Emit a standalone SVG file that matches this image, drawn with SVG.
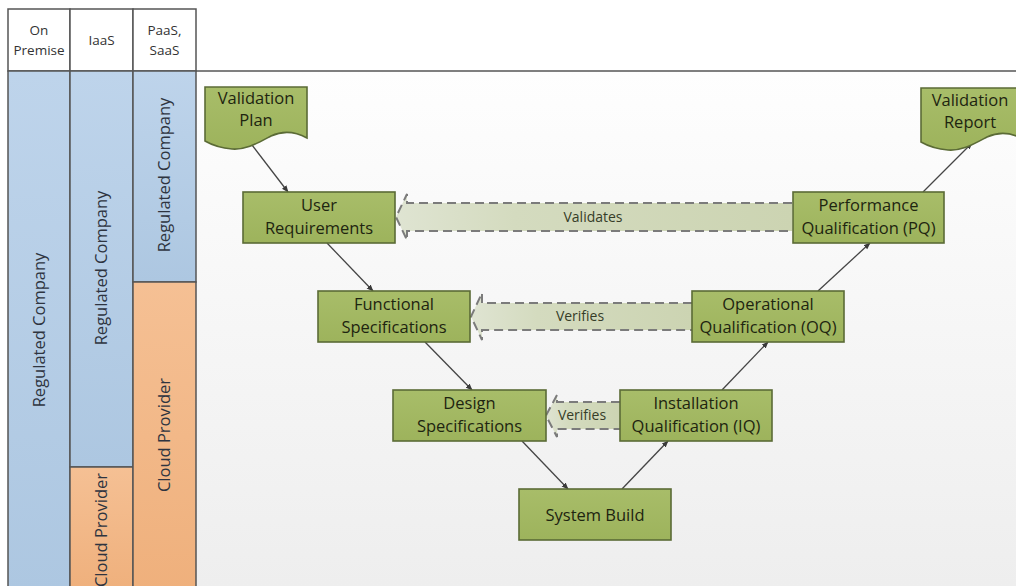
<svg xmlns="http://www.w3.org/2000/svg" width="1016" height="586" viewBox="0 0 1016 586">
<defs>
  <linearGradient id="bg" x1="0" y1="0" x2="0" y2="1">
    <stop offset="0" stop-color="#fefefe"/>
    <stop offset="1" stop-color="#eeeeee"/>
  </linearGradient>
  <linearGradient id="blue" x1="0" y1="0" x2="0" y2="1">
    <stop offset="0" stop-color="#bed4eb"/>
    <stop offset="1" stop-color="#adc7e1"/>
  </linearGradient>
  <linearGradient id="orange" x1="0" y1="0" x2="0" y2="1">
    <stop offset="0" stop-color="#f5c094"/>
    <stop offset="1" stop-color="#efb07c"/>
  </linearGradient>
  <linearGradient id="green" x1="0" y1="0" x2="0" y2="1">
    <stop offset="0" stop-color="#a8bd69"/>
    <stop offset="1" stop-color="#9db35c"/>
  </linearGradient>
  <linearGradient id="barrow" x1="0" y1="0" x2="1" y2="0">
    <stop offset="0" stop-color="#dfe4d2"/>
    <stop offset="0.3" stop-color="#d4dbbf"/>
    <stop offset="1" stop-color="#ccd4b2"/>
  </linearGradient>
  <marker id="ah" viewBox="0 0 10 10" refX="9" refY="5" markerWidth="7" markerHeight="7" orient="auto" markerUnits="userSpaceOnUse">
    <path d="M0,1 L10,5 L0,9 Z" fill="#3a3a3a"/>
  </marker>
  <style>
    .cell{stroke:#555;stroke-width:1.5}
    .hdr{font-family:"Open Sans","Liberation Sans",sans-serif;font-size:13.5px;fill:#333;text-anchor:middle}
    .vt{font-family:"Open Sans","Liberation Sans",sans-serif;font-size:16.5px;fill:#2e3440;text-anchor:middle}
    .node{fill:url(#green);stroke:#5b6b36;stroke-width:1.6}
    .nt{font-family:"Open Sans","Liberation Sans",sans-serif;font-size:16.5px;font-weight:500;fill:#1e2510;text-anchor:middle}
    .conn{stroke:#454545;stroke-width:1.3;fill:none;marker-end:url(#ah)}
    .ba{fill:url(#barrow);stroke:#7b7b7b;stroke-width:2;stroke-dasharray:9,5}
    .bt{font-family:"Open Sans","Liberation Sans",sans-serif;font-size:14px;fill:#363d28;text-anchor:middle}
  </style>
</defs>

<rect x="0" y="0" width="1016" height="586" fill="#ffffff"/>
<rect x="196" y="71" width="820" height="515" fill="url(#bg)"/>

<g id="lanes">
  <rect class="cell" x="8" y="9" width="62" height="62" fill="#ffffff"/>
  <rect class="cell" x="70" y="9" width="63" height="62" fill="#ffffff"/>
  <rect class="cell" x="133" y="9" width="63" height="62" fill="#ffffff"/>
  <line x1="196" y1="71" x2="1016" y2="71" stroke="#555" stroke-width="1.5"/>
  <text class="hdr" x="39" y="35">On</text>
  <text class="hdr" x="39" y="55">Premise</text>
  <text class="hdr" x="101.5" y="45">IaaS</text>
  <text class="hdr" x="164.5" y="35">PaaS,</text>
  <text class="hdr" x="164.5" y="55">SaaS</text>

  <rect class="cell" x="8" y="71" width="62" height="520" fill="url(#blue)"/>
  <rect class="cell" x="70" y="71" width="63" height="396" fill="url(#blue)"/>
  <rect class="cell" x="70" y="467" width="63" height="124" fill="url(#orange)"/>
  <rect class="cell" x="133" y="71" width="63" height="211" fill="url(#blue)"/>
  <rect class="cell" x="133" y="282" width="63" height="309" fill="url(#orange)"/>

  <text class="vt" transform="translate(45,330) rotate(-90)">Regulated Company</text>
  <text class="vt" transform="translate(107,268) rotate(-90)">Regulated Company</text>
  <text class="vt" transform="translate(170,175) rotate(-90)">Regulated Company</text>
  <text class="vt" transform="translate(107,530) rotate(-90)">Cloud Provider</text>
  <text class="vt" transform="translate(170,435) rotate(-90)">Cloud Provider</text>
</g>

<g id="connectors">
  <path class="ba" d="M792,203 H407 V194 L396,217 L407,240 V231 H792"/>
  <text class="bt" x="593" y="222">Validates</text>
  <path class="ba" d="M692,303 H482 V293 L471,316.5 L482,340 V330 H692"/>
  <text class="bt" x="580" y="321">Verifies</text>
  <path class="ba" d="M620,402 H557 V395 L546,415.5 L557,437 V429 H620"/>
  <text class="bt" x="582" y="420">Verifies</text>

  <line class="conn" x1="252" y1="145" x2="288" y2="192"/>
  <line class="conn" x1="327" y1="243" x2="373" y2="291"/>
  <line class="conn" x1="425" y1="342" x2="472" y2="390"/>
  <line class="conn" x1="522" y1="441" x2="568" y2="489"/>
  <line class="conn" x1="622" y1="489" x2="668" y2="441"/>
  <line class="conn" x1="722" y1="390" x2="768" y2="342"/>
  <line class="conn" x1="818" y1="291" x2="870" y2="243"/>
  <line class="conn" x1="923" y1="192" x2="972" y2="143"/>
</g>

<g id="validation-plan">
  <path class="node" d="M205,87 H307 V138 C296,132 284,130 271,136 C256,144 246,150 232,149 C220,148 212,145 205,141 Z"/>
  <text class="nt" x="256" y="104">Validation</text>
  <text class="nt" x="256" y="126">Plan</text>
</g>
<g id="user-requirements">
  <rect class="node" x="243" y="192" width="152" height="51"/>
  <text class="nt" x="319" y="211">User</text>
  <text class="nt" x="319" y="234">Requirements</text>
</g>
<g id="functional-specifications">
  <rect class="node" x="318" y="291" width="152" height="51"/>
  <text class="nt" x="394" y="310">Functional</text>
  <text class="nt" x="394" y="333">Specifications</text>
</g>
<g id="design-specifications">
  <rect class="node" x="393" y="390" width="153" height="51"/>
  <text class="nt" x="469.5" y="409">Design</text>
  <text class="nt" x="469.5" y="432">Specifications</text>
</g>
<g id="system-build">
  <rect class="node" x="519" y="489" width="152" height="51"/>
  <text class="nt" x="595" y="520.5">System Build</text>
</g>
<g id="installation-qualification">
  <rect class="node" x="620" y="390" width="152" height="51"/>
  <text class="nt" x="696" y="409">Installation</text>
  <text class="nt" x="696" y="432">Qualification (IQ)</text>
</g>
<g id="operational-qualification">
  <rect class="node" x="692" y="291" width="152" height="51"/>
  <text class="nt" x="768" y="310">Operational</text>
  <text class="nt" x="768" y="333">Qualification (OQ)</text>
</g>
<g id="performance-qualification">
  <rect class="node" x="793" y="192" width="151" height="51"/>
  <text class="nt" x="868.5" y="211">Performance</text>
  <text class="nt" x="868.5" y="234">Qualification (PQ)</text>
</g>
<g id="validation-report">
  <path class="node" d="M921,88 H1023 V139 C1012,133 1000,131 987,137 C972,145 962,151 948,150 C936,149 928,146 921,142 Z"/>
  <text class="nt" x="970" y="106">Validation</text>
  <text class="nt" x="970" y="128">Report</text>
</g>
</svg>
